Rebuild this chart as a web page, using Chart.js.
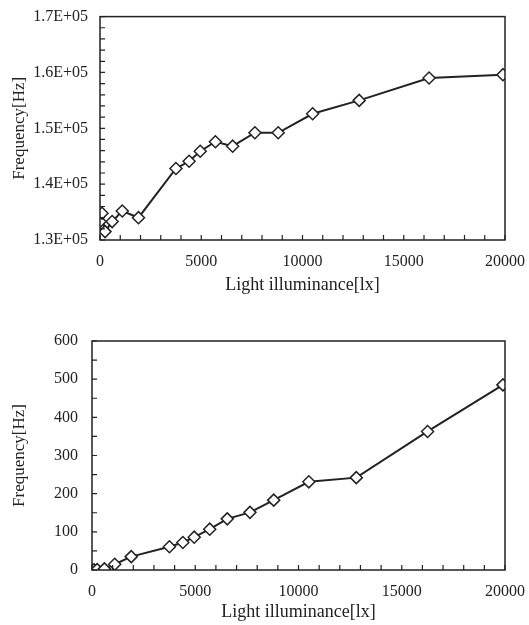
<!DOCTYPE html>
<html>
<head>
<meta charset="utf-8">
<script src="https://cdn.jsdelivr.net/npm/chart.js@4/dist/chart.umd.min.js"></script>
<style>
  html, body { margin: 0; padding: 0; background: #fff; }
  #wrap { position: relative; width: 529px; height: 625px; overflow: hidden; }
  #topChart { position: absolute; left: 0; top: -5px; }
  #bottomChart { position: absolute; left: 0; top: 300px; }
</style>
</head>
<body>
<div id="wrap">
  <canvas id="topChart" width="537" height="305"></canvas>
  <canvas id="bottomChart" width="537" height="325"></canvas>
</div>
<script>
// Illuminance steps [lx] (shared by both panels)
const illuminance = [0, 100, 250, 600, 1100, 1900, 3750, 4400, 4950, 5700, 6550, 7650, 8800, 10500, 12800, 16250, 19900];

// Top panel: oscillation frequency [Hz]
const freqTop = [133300, 134800, 131500, 133300, 135200, 134000, 142800, 144100, 145900, 147600, 146800, 149200, 149200, 152600, 155000, 159000, 159600];

// Bottom panel: frequency [Hz]
const freqBottom = [0, 0.5, 1, 3, 15, 35, 61, 72, 86, 107, 134, 151, 183, 231, 242, 363, 485];

const xTicks = [0, 5000, 10000, 15000, 20000];
const yTicksTop = [130000, 140000, 150000, 160000, 170000];
const yTicksBottom = [0, 100, 200, 300, 400, 500, 600];

const ink = "#222";
const font = "'Liberation Serif', 'Times New Roman', serif";

// frame around the plot + inside tick marks (major and minor)
const framePlugin = {
  id: "frame",
  afterDraw(chart, args, opts) {
    const { ctx, chartArea: a, scales } = chart;
    ctx.save();
    ctx.strokeStyle = ink;
    ctx.lineWidth = 1.5;
    ctx.strokeRect(a.left, a.top, a.right - a.left, a.bottom - a.top);
    ctx.lineWidth = 1.2;
    ctx.beginPath();
    for (let v = scales.x.min; v <= scales.x.max; v += opts.xMinor) {
      const px = scales.x.getPixelForValue(v);
      ctx.moveTo(px, a.bottom);
      ctx.lineTo(px, a.bottom - 5);
    }
    for (let v = scales.y.min; v <= scales.y.max; v += opts.yMinor) {
      const py = scales.y.getPixelForValue(v);
      ctx.moveTo(a.left, py);
      ctx.lineTo(a.left + 5, py);
    }
    ctx.stroke();
    ctx.restore();
  },
};

function makeChart(el, values, yTicks, opts) {
  return new Chart(el, {
    type: "line",
    data: {
      datasets: [
        {
          data: illuminance.map((x, i) => ({ x: x, y: values[i] })),
          borderColor: ink,
          borderWidth: 2,
          pointStyle: "rectRot",
          pointRadius: 6,
          pointBackgroundColor: "#fff",
          pointBorderColor: ink,
          pointBorderWidth: 1.5,
          tension: 0,
        },
      ],
    },
    options: {
      responsive: false,
      animation: false,
      layout: { padding: { left: 0, top: opts.padTop, right: 0, bottom: 0 } },
      plugins: {
        legend: { display: false },
        tooltip: { enabled: false },
        frame: { xMinor: 1000, yMinor: opts.yMinor },
      },
      scales: {
        x: {
          type: "linear",
          min: 0,
          max: 20000,
          afterBuildTicks: (s) => { s.ticks = xTicks.map((v) => ({ value: v })); },
          afterFit: (s) => { s.height = opts.xHeight; },
          grid: { display: false, drawTicks: false },
          border: { display: false },
          ticks: {
            color: ink,
            font: { family: font, size: 16 },
            padding: 12,
            maxRotation: 0,
            callback: (v) => String(v),
          },
          title: {
            display: true,
            text: "Light illuminance[lx]",
            color: ink,
            font: { family: font, size: 18 },
            padding: { top: 0, bottom: opts.xTitlePad },
          },
        },
        y: {
          min: yTicks[0],
          max: yTicks[yTicks.length - 1],
          afterBuildTicks: (s) => { s.ticks = yTicks.map((v) => ({ value: v })); },
          afterFit: (s) => { s.width = opts.yWidth; },
          grid: { display: false, drawTicks: false },
          border: { display: false },
          ticks: {
            color: ink,
            font: { family: font, size: 16 },
            padding: opts.yPad,
            callback: opts.fmt,
          },
          title: {
            display: true,
            text: "Frequency[Hz]",
            color: ink,
            font: { family: font, size: 17 },
            padding: { top: 9, bottom: 0 },
          },
        },
      },
    },
    plugins: [framePlugin],
  });
}

makeChart(document.getElementById("topChart"), freqTop, yTicksTop, {
  padTop: 11,
  xHeight: 60,
  xTitlePad: 4,
  yWidth: 100,
  yPad: 12,
  yMinor: 2000,
  fmt: (v) => (v / 100000).toFixed(1) + "E+05",
});

makeChart(document.getElementById("bottomChart"), freqBottom, yTicksBottom, {
  padTop: 41,
  xHeight: 55,
  xTitlePad: 2,
  yWidth: 92,
  yPad: 14,
  yMinor: 50,
  fmt: (v) => String(v),
});
</script>
</body>
</html>
